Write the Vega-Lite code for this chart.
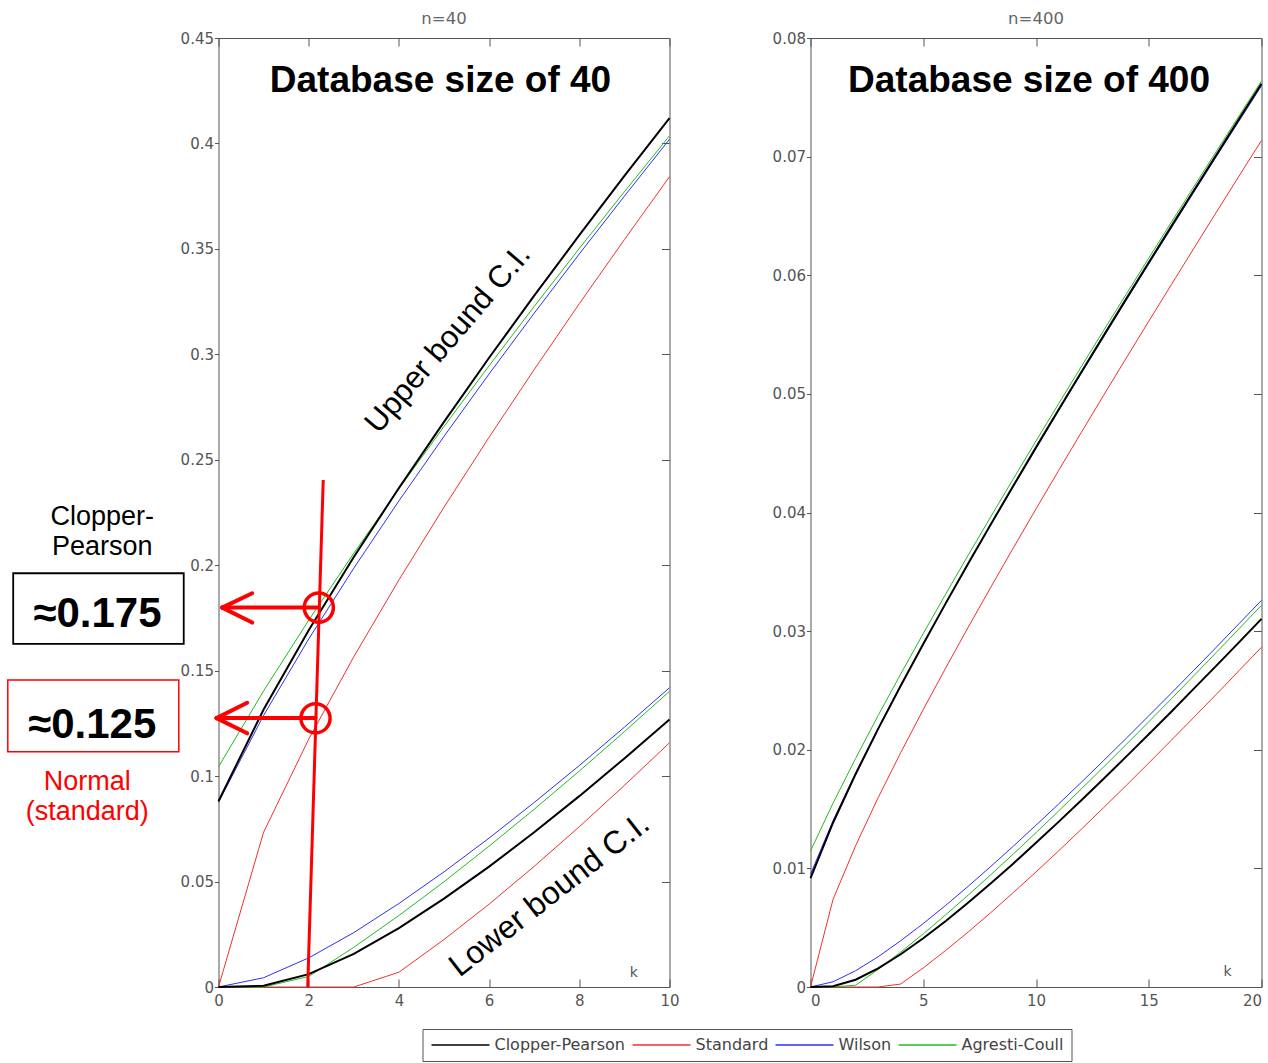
{
  "$schema": "https://vega.github.io/schema/vega-lite/v6.json",
  "padding": {"left": 6.5, "top": 10, "right": 0, "bottom": 0},
  "background": "white",
  "bounds": "flush",
  "spacing": 141,
  "resolve": {"scale": {"color": "independent"}},
  "config": {
    "view": {"stroke": "#555", "strokeWidth": 1},
    "axis": {"labelFont": "DejaVu Sans", "labelFontSize": 15, "labelColor": "#555", "tickColor": "#555", "domain": false, "grid": false, "title": null}
  },
  "datasets": {
    "n40": [
      {"m": "Standard", "k": 0, "lo": 0, "hi": 0},
      {"m": "Standard", "k": 1, "lo": 0, "hi": 0.0734},
      {"m": "Standard", "k": 2, "lo": 0, "hi": 0.1175},
      {"m": "Standard", "k": 3, "lo": 0, "hi": 0.1566},
      {"m": "Standard", "k": 4, "lo": 0.0070, "hi": 0.1930},
      {"m": "Standard", "k": 5, "lo": 0.0225, "hi": 0.2275},
      {"m": "Standard", "k": 6, "lo": 0.0393, "hi": 0.2607},
      {"m": "Standard", "k": 7, "lo": 0.0572, "hi": 0.2928},
      {"m": "Standard", "k": 8, "lo": 0.0760, "hi": 0.3240},
      {"m": "Standard", "k": 9, "lo": 0.0956, "hi": 0.3544},
      {"m": "Standard", "k": 10, "lo": 0.1158, "hi": 0.3842},
      {"m": "Wilson", "k": 0, "lo": 0, "hi": 0.0876},
      {"m": "Wilson", "k": 1, "lo": 0.0044, "hi": 0.1288},
      {"m": "Wilson", "k": 2, "lo": 0.0138, "hi": 0.1650},
      {"m": "Wilson", "k": 3, "lo": 0.0258, "hi": 0.1986},
      {"m": "Wilson", "k": 4, "lo": 0.0396, "hi": 0.2305},
      {"m": "Wilson", "k": 5, "lo": 0.0546, "hi": 0.2611},
      {"m": "Wilson", "k": 6, "lo": 0.0706, "hi": 0.2907},
      {"m": "Wilson", "k": 7, "lo": 0.0875, "hi": 0.3195},
      {"m": "Wilson", "k": 8, "lo": 0.1050, "hi": 0.3476},
      {"m": "Wilson", "k": 9, "lo": 0.1232, "hi": 0.3750},
      {"m": "Wilson", "k": 10, "lo": 0.1419, "hi": 0.4020},
      {"m": "Agresti-Coull", "k": 0, "lo": 0, "hi": 0.1044},
      {"m": "Agresti-Coull", "k": 1, "lo": 0, "hi": 0.1404},
      {"m": "Agresti-Coull", "k": 2, "lo": 0.0050, "hi": 0.1739},
      {"m": "Agresti-Coull", "k": 3, "lo": 0.0188, "hi": 0.2057},
      {"m": "Agresti-Coull", "k": 4, "lo": 0.0339, "hi": 0.2362},
      {"m": "Agresti-Coull", "k": 5, "lo": 0.0499, "hi": 0.2658},
      {"m": "Agresti-Coull", "k": 6, "lo": 0.0668, "hi": 0.2946},
      {"m": "Agresti-Coull", "k": 7, "lo": 0.0843, "hi": 0.3227},
      {"m": "Agresti-Coull", "k": 8, "lo": 0.1024, "hi": 0.3502},
      {"m": "Agresti-Coull", "k": 9, "lo": 0.1211, "hi": 0.3771},
      {"m": "Agresti-Coull", "k": 10, "lo": 0.1402, "hi": 0.4036},
      {"m": "Clopper-Pearson", "k": 0, "lo": 0, "hi": 0.0881},
      {"m": "Clopper-Pearson", "k": 1, "lo": 0.0006, "hi": 0.1316},
      {"m": "Clopper-Pearson", "k": 2, "lo": 0.0061, "hi": 0.1692},
      {"m": "Clopper-Pearson", "k": 3, "lo": 0.0157, "hi": 0.2039},
      {"m": "Clopper-Pearson", "k": 4, "lo": 0.0279, "hi": 0.2366},
      {"m": "Clopper-Pearson", "k": 5, "lo": 0.0419, "hi": 0.2680},
      {"m": "Clopper-Pearson", "k": 6, "lo": 0.0571, "hi": 0.2984},
      {"m": "Clopper-Pearson", "k": 7, "lo": 0.0734, "hi": 0.3278},
      {"m": "Clopper-Pearson", "k": 8, "lo": 0.0905, "hi": 0.3565},
      {"m": "Clopper-Pearson", "k": 9, "lo": 0.1084, "hi": 0.3846},
      {"m": "Clopper-Pearson", "k": 10, "lo": 0.1269, "hi": 0.4120}
    ],
    "n400": [
      {"m": "Standard", "k": 0, "lo": 0, "hi": 0},
      {"m": "Standard", "k": 1, "lo": 0, "hi": 0.00739},
      {"m": "Standard", "k": 2, "lo": 0, "hi": 0.01191},
      {"m": "Standard", "k": 3, "lo": 0, "hi": 0.01596},
      {"m": "Standard", "k": 4, "lo": 0.00025, "hi": 0.01975},
      {"m": "Standard", "k": 5, "lo": 0.00161, "hi": 0.02339},
      {"m": "Standard", "k": 6, "lo": 0.00309, "hi": 0.02691},
      {"m": "Standard", "k": 7, "lo": 0.00465, "hi": 0.03035},
      {"m": "Standard", "k": 8, "lo": 0.00628, "hi": 0.03372},
      {"m": "Standard", "k": 9, "lo": 0.00797, "hi": 0.03703},
      {"m": "Standard", "k": 10, "lo": 0.0097, "hi": 0.0403},
      {"m": "Standard", "k": 11, "lo": 0.01147, "hi": 0.04353},
      {"m": "Standard", "k": 12, "lo": 0.01328, "hi": 0.04672},
      {"m": "Standard", "k": 13, "lo": 0.01512, "hi": 0.04988},
      {"m": "Standard", "k": 14, "lo": 0.01699, "hi": 0.05301},
      {"m": "Standard", "k": 15, "lo": 0.01888, "hi": 0.05612},
      {"m": "Standard", "k": 16, "lo": 0.0208, "hi": 0.0592},
      {"m": "Standard", "k": 17, "lo": 0.02273, "hi": 0.06227},
      {"m": "Standard", "k": 18, "lo": 0.02468, "hi": 0.06532},
      {"m": "Standard", "k": 19, "lo": 0.02666, "hi": 0.06835},
      {"m": "Standard", "k": 20, "lo": 0.02864, "hi": 0.07136},
      {"m": "Wilson", "k": 0, "lo": 0, "hi": 0.00951},
      {"m": "Wilson", "k": 1, "lo": 0.00044, "hi": 0.01402},
      {"m": "Wilson", "k": 2, "lo": 0.00137, "hi": 0.01805},
      {"m": "Wilson", "k": 3, "lo": 0.00255, "hi": 0.02182},
      {"m": "Wilson", "k": 4, "lo": 0.0039, "hi": 0.02543},
      {"m": "Wilson", "k": 5, "lo": 0.00535, "hi": 0.02892},
      {"m": "Wilson", "k": 6, "lo": 0.00689, "hi": 0.03234},
      {"m": "Wilson", "k": 7, "lo": 0.0085, "hi": 0.03568},
      {"m": "Wilson", "k": 8, "lo": 0.01017, "hi": 0.03896},
      {"m": "Wilson", "k": 9, "lo": 0.01188, "hi": 0.0422},
      {"m": "Wilson", "k": 10, "lo": 0.01364, "hi": 0.0454},
      {"m": "Wilson", "k": 11, "lo": 0.01542, "hi": 0.04857},
      {"m": "Wilson", "k": 12, "lo": 0.01724, "hi": 0.0517},
      {"m": "Wilson", "k": 13, "lo": 0.01909, "hi": 0.05481},
      {"m": "Wilson", "k": 14, "lo": 0.02096, "hi": 0.05789},
      {"m": "Wilson", "k": 15, "lo": 0.02286, "hi": 0.06095},
      {"m": "Wilson", "k": 16, "lo": 0.02477, "hi": 0.06398},
      {"m": "Wilson", "k": 17, "lo": 0.0267, "hi": 0.067},
      {"m": "Wilson", "k": 18, "lo": 0.02865, "hi": 0.07001},
      {"m": "Wilson", "k": 19, "lo": 0.03062, "hi": 0.07299},
      {"m": "Wilson", "k": 20, "lo": 0.0326, "hi": 0.07597},
      {"m": "Agresti-Coull", "k": 0, "lo": 0, "hi": 0.01147},
      {"m": "Agresti-Coull", "k": 1, "lo": 0, "hi": 0.0155},
      {"m": "Agresti-Coull", "k": 2, "lo": 0.00015, "hi": 0.01927},
      {"m": "Agresti-Coull", "k": 3, "lo": 0.00148, "hi": 0.02289},
      {"m": "Agresti-Coull", "k": 4, "lo": 0.00294, "hi": 0.02638},
      {"m": "Agresti-Coull", "k": 5, "lo": 0.00448, "hi": 0.0298},
      {"m": "Agresti-Coull", "k": 6, "lo": 0.00609, "hi": 0.03314},
      {"m": "Agresti-Coull", "k": 7, "lo": 0.00776, "hi": 0.03643},
      {"m": "Agresti-Coull", "k": 8, "lo": 0.00947, "hi": 0.03966},
      {"m": "Agresti-Coull", "k": 9, "lo": 0.01122, "hi": 0.04286},
      {"m": "Agresti-Coull", "k": 10, "lo": 0.01301, "hi": 0.04603},
      {"m": "Agresti-Coull", "k": 11, "lo": 0.01483, "hi": 0.04916},
      {"m": "Agresti-Coull", "k": 12, "lo": 0.01668, "hi": 0.05227},
      {"m": "Agresti-Coull", "k": 13, "lo": 0.01855, "hi": 0.05535},
      {"m": "Agresti-Coull", "k": 14, "lo": 0.02044, "hi": 0.0584},
      {"m": "Agresti-Coull", "k": 15, "lo": 0.02236, "hi": 0.06144},
      {"m": "Agresti-Coull", "k": 16, "lo": 0.02429, "hi": 0.06446},
      {"m": "Agresti-Coull", "k": 17, "lo": 0.02624, "hi": 0.06746},
      {"m": "Agresti-Coull", "k": 18, "lo": 0.02821, "hi": 0.07045},
      {"m": "Agresti-Coull", "k": 19, "lo": 0.03019, "hi": 0.07342},
      {"m": "Agresti-Coull", "k": 20, "lo": 0.03218, "hi": 0.07638},
      {"m": "Clopper-Pearson", "k": 0, "lo": 0, "hi": 0.00918},
      {"m": "Clopper-Pearson", "k": 1, "lo": 0.00006, "hi": 0.01385},
      {"m": "Clopper-Pearson", "k": 2, "lo": 0.00061, "hi": 0.01794},
      {"m": "Clopper-Pearson", "k": 3, "lo": 0.00157, "hi": 0.02176},
      {"m": "Clopper-Pearson", "k": 4, "lo": 0.00276, "hi": 0.0254},
      {"m": "Clopper-Pearson", "k": 5, "lo": 0.00411, "hi": 0.02892},
      {"m": "Clopper-Pearson", "k": 6, "lo": 0.00557, "hi": 0.03236},
      {"m": "Clopper-Pearson", "k": 7, "lo": 0.00713, "hi": 0.03572},
      {"m": "Clopper-Pearson", "k": 8, "lo": 0.00875, "hi": 0.03902},
      {"m": "Clopper-Pearson", "k": 9, "lo": 0.01042, "hi": 0.04227},
      {"m": "Clopper-Pearson", "k": 10, "lo": 0.01216, "hi": 0.04549},
      {"m": "Clopper-Pearson", "k": 11, "lo": 0.01392, "hi": 0.04866},
      {"m": "Clopper-Pearson", "k": 12, "lo": 0.01572, "hi": 0.0518},
      {"m": "Clopper-Pearson", "k": 13, "lo": 0.01755, "hi": 0.05491},
      {"m": "Clopper-Pearson", "k": 14, "lo": 0.01942, "hi": 0.05801},
      {"m": "Clopper-Pearson", "k": 15, "lo": 0.0213, "hi": 0.06107},
      {"m": "Clopper-Pearson", "k": 16, "lo": 0.02321, "hi": 0.06412},
      {"m": "Clopper-Pearson", "k": 17, "lo": 0.02515, "hi": 0.06715},
      {"m": "Clopper-Pearson", "k": 18, "lo": 0.02709, "hi": 0.07015},
      {"m": "Clopper-Pearson", "k": 19, "lo": 0.02905, "hi": 0.07316},
      {"m": "Clopper-Pearson", "k": 20, "lo": 0.03103, "hi": 0.07614}
    ]
  },
  "hconcat": [
    {
      "width": 451,
      "height": 949,
      "title": {"text": "n=40", "fontSize": 16.5, "fontWeight": "normal", "font": "DejaVu Sans", "color": "#666", "anchor": "middle", "baseline": "alphabetic", "offset": -9},
      "resolve": {"axis": {"x": "independent", "y": "independent"}},
      "encoding": {
        "x": {"field": "k", "type": "quantitative", "scale": {"domain": [0, 10], "nice": false}, "axis": null},
        "y": {"field": "v", "type": "quantitative", "scale": {"domain": [0, 0.45], "nice": false}, "axis": null}
      },
      "layer": [
        {
          "data": {"name": "n40"},
          "transform": [{"fold": ["lo", "hi"], "as": ["b", "v"]}],
          "mark": {"type": "line"},
          "encoding": {
            "x": {"field": "k", "type": "quantitative", "scale": {"domain": [0, 10], "nice": false},
                  "axis": {"orient": "bottom", "values": [0, 2, 4, 6, 8, 10], "format": "~r", "tickSize": -8, "labelPadding": 14, "labelFlush": false}},
            "y": {"field": "v", "type": "quantitative", "scale": {"domain": [0, 0.45], "nice": false},
                  "axis": {"orient": "left", "values": [0, 0.05, 0.1, 0.15, 0.2, 0.25, 0.3, 0.35, 0.4, 0.45], "format": "~r", "tickSize": 4, "labelPadding": 1, "labelFlush": false}},
            "color": {"field": "m", "type": "nominal",
                      "scale": {"domain": ["Clopper-Pearson", "Standard", "Wilson", "Agresti-Coull"], "range": ["#000000", "#f03030", "#3030f0", "#22bb22"]},
                      "legend": {"orient": "none", "legendX": 204, "legendY": 991, "direction": "horizontal", "title": null,
                                 "symbolType": "M-4,0H4", "symbolSize": 210, "symbolStrokeWidth": 1.5, "symbolOffset": 22,
                                 "labelFont": "DejaVu Sans", "labelFontSize": 16, "labelColor": "#444", "labelOffset": 26,
                                 "strokeColor": "#555", "padding": 8, "columnPadding": 4}},
            "detail": {"field": "b"},
            "strokeWidth": {"condition": {"test": "datum.m === 'Clopper-Pearson'", "value": 2}, "value": 1}
          }
        },
        {
          "data": {"values": [{"k": 2.322, "v": 0.2404, "k2": 1.978, "v2": 0}]},
          "mark": {"type": "rule", "color": "#ff0000", "strokeWidth": 3},
          "encoding": {"x2": {"field": "k2"}, "y2": {"field": "v2"}}
        },
        {
          "data": {"values": [
            {"k": 0.082, "v": 0.1799, "k2": 2.224, "v2": 0.1799},
            {"k": 0.082, "v": 0.1799, "k2": 0.747, "v2": 0.1867},
            {"k": 0.082, "v": 0.1799, "k2": 0.747, "v2": 0.1728},
            {"k": -0.044, "v": 0.1275, "k2": 2.151, "v2": 0.1275},
            {"k": -0.044, "v": 0.1275, "k2": 0.636, "v2": 0.1348},
            {"k": -0.044, "v": 0.1275, "k2": 0.636, "v2": 0.1203}
          ]},
          "mark": {"type": "rule", "color": "#ff0000", "strokeWidth": 4, "strokeCap": "round"},
          "encoding": {"x2": {"field": "k2"}, "y2": {"field": "v2"}}
        },
        {
          "data": {"values": [{"k": 2.224, "v": 0.1799}, {"k": 2.151, "v": 0.1274}]},
          "mark": {"type": "point", "shape": "circle", "filled": false, "size": 850, "strokeWidth": 3.5, "color": "#ff0000", "opacity": 1}
        },
        {
          "data": {"values": [{"k": -4.552, "k2": -0.771, "v": 0.1962, "v2": 0.1627}]},
          "mark": {"type": "rect", "fill": "transparent", "stroke": "#000000", "strokeWidth": 1.8},
          "encoding": {"x2": {"field": "k2"}, "y2": {"field": "v2"}}
        },
        {
          "data": {"values": [{"k": -4.672, "k2": -0.880, "v": 0.1456, "v2": 0.1116}]},
          "mark": {"type": "rect", "fill": "transparent", "stroke": "#ff0000", "strokeWidth": 1.5},
          "encoding": {"x2": {"field": "k2"}, "y2": {"field": "v2"}}
        },
        {
          "data": {"values": [{"t": "≈0.175", "k": -2.683, "v": 0.1707}, {"t": "≈0.125", "k": -2.80, "v": 0.1181}]},
          "mark": {"type": "text", "font": "Liberation Sans", "fontSize": 42, "fontWeight": "bold", "align": "center", "baseline": "alphabetic", "color": "#000000"},
          "encoding": {"text": {"field": "t"}}
        },
        {
          "data": {"values": [{"t": "Clopper-", "k": -2.579, "v": 0.2191}, {"t": "Pearson", "k": -2.579, "v": 0.2048}]},
          "mark": {"type": "text", "font": "Liberation Sans", "fontSize": 27, "align": "center", "baseline": "alphabetic", "color": "#000000"},
          "encoding": {"text": {"field": "t"}}
        },
        {
          "data": {"values": [{"t": "Normal", "k": -2.911, "v": 0.0934}, {"t": "(standard)", "k": -2.911, "v": 0.0792}]},
          "mark": {"type": "text", "font": "Liberation Sans", "fontSize": 27, "align": "center", "baseline": "alphabetic", "color": "#ff0000"},
          "encoding": {"text": {"field": "t"}}
        },
        {
          "data": {"values": [{"t": "Database size of 40", "k": 4.922, "v": 0.4244}]},
          "mark": {"type": "text", "font": "Liberation Sans", "fontSize": 37, "fontWeight": "bold", "align": "center", "baseline": "alphabetic", "color": "#000000"},
          "encoding": {"text": {"field": "t"}}
        },
        {
          "data": {"values": [{"t": "Upper bound C.I.", "k": 5.25, "v": 0.3044}]},
          "mark": {"type": "text", "font": "Liberation Sans", "fontSize": 31, "angle": -49.5, "align": "center", "baseline": "alphabetic", "color": "#000000"},
          "encoding": {"text": {"field": "t"}}
        },
        {
          "data": {"values": [{"t": "Lower bound C.I.", "k": 7.47, "v": 0.040}]},
          "mark": {"type": "text", "font": "Liberation Sans", "fontSize": 32, "angle": -38, "align": "center", "baseline": "alphabetic", "color": "#000000"},
          "encoding": {"text": {"field": "t"}}
        },
        {
          "data": {"values": [{"t": "k", "k": 9.208, "v": 0.0065}]},
          "mark": {"type": "text", "font": "DejaVu Sans", "fontSize": 14, "align": "center", "baseline": "middle", "color": "#555"},
          "encoding": {
            "x": {"field": "k", "type": "quantitative", "scale": {"domain": [0, 10], "nice": false},
                  "axis": {"orient": "top", "values": [0, 2, 4, 6, 8, 10], "labels": false, "tickSize": -8}},
            "y": {"field": "v", "type": "quantitative", "scale": {"domain": [0, 0.45], "nice": false},
                  "axis": {"orient": "right", "values": [0, 0.05, 0.1, 0.15, 0.2, 0.25, 0.3, 0.35, 0.4, 0.45], "labels": false, "tickSize": -8}},
            "text": {"field": "t"}
          }
        }
      ]
    },
    {
      "width": 451,
      "height": 949,
      "title": {"text": "n=400", "fontSize": 16.5, "fontWeight": "normal", "font": "DejaVu Sans", "color": "#666", "anchor": "middle", "baseline": "alphabetic", "offset": -9},
      "resolve": {"axis": {"x": "independent", "y": "independent"}},
      "encoding": {
        "x": {"field": "k", "type": "quantitative", "scale": {"domain": [0, 20], "nice": false}, "axis": null},
        "y": {"field": "v", "type": "quantitative", "scale": {"domain": [0, 0.08], "nice": false}, "axis": null}
      },
      "layer": [
        {
          "data": {"name": "n400"},
          "transform": [{"fold": ["lo", "hi"], "as": ["b", "v"]}],
          "mark": {"type": "line"},
          "encoding": {
            "x": {"field": "k", "type": "quantitative", "scale": {"domain": [0, 20], "nice": false},
                  "axis": {"orient": "bottom", "values": [0, 5, 10, 15, 20], "format": "~r", "tickSize": -8, "labelPadding": 14, "labelFlush": true}},
            "y": {"field": "v", "type": "quantitative", "scale": {"domain": [0, 0.08], "nice": false},
                  "axis": {"orient": "left", "values": [0, 0.01, 0.02, 0.03, 0.04, 0.05, 0.06, 0.07, 0.08], "format": "~r", "tickSize": 4, "labelPadding": 1, "labelFlush": false}},
            "color": {"field": "m", "type": "nominal",
                      "scale": {"domain": ["Clopper-Pearson", "Standard", "Wilson", "Agresti-Coull"], "range": ["#000000", "#f03030", "#3030f0", "#22bb22"]},
                      "legend": null},
            "detail": {"field": "b"},
            "strokeWidth": {"condition": {"test": "datum.m === 'Clopper-Pearson'", "value": 2}, "value": 1}
          }
        },
        {
          "data": {"values": [{"t": "Database size of 400", "k": 9.69, "v": 0.07545}]},
          "mark": {"type": "text", "font": "Liberation Sans", "fontSize": 37, "fontWeight": "bold", "align": "center", "baseline": "alphabetic", "color": "#000000"},
          "encoding": {"text": {"field": "t"}}
        },
        {
          "data": {"values": [{"t": "k", "k": 18.49, "v": 0.00129}]},
          "mark": {"type": "text", "font": "DejaVu Sans", "fontSize": 14, "align": "center", "baseline": "middle", "color": "#555"},
          "encoding": {
            "x": {"field": "k", "type": "quantitative", "scale": {"domain": [0, 20], "nice": false},
                  "axis": {"orient": "top", "values": [0, 5, 10, 15, 20], "labels": false, "tickSize": -8}},
            "y": {"field": "v", "type": "quantitative", "scale": {"domain": [0, 0.08], "nice": false},
                  "axis": {"orient": "right", "values": [0, 0.01, 0.02, 0.03, 0.04, 0.05, 0.06, 0.07, 0.08], "labels": false, "tickSize": -8}},
            "text": {"field": "t"}
          }
        }
      ]
    }
  ]
}
